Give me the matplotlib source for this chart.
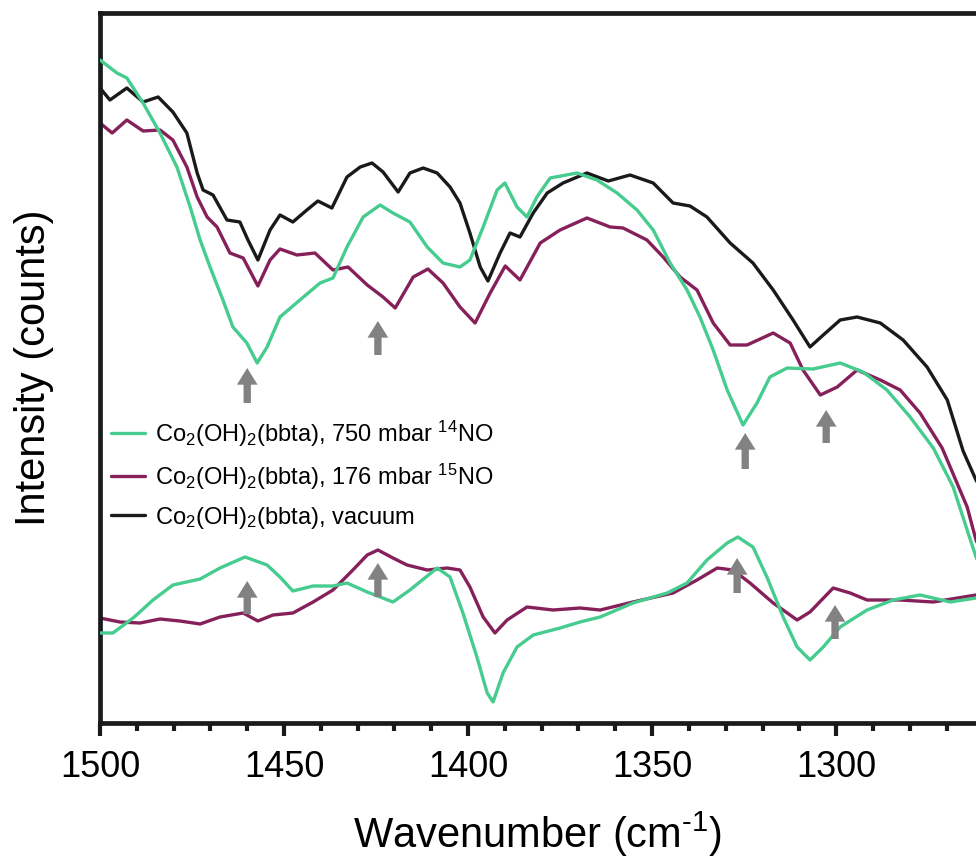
import matplotlib
matplotlib.use("Agg")
import matplotlib.pyplot as plt
from matplotlib.ticker import MultipleLocator

plt.rcParams['font.family'] = ['Liberation Sans', 'DejaVu Sans']
plt.rcParams['mathtext.fontset'] = 'custom'
plt.rcParams['mathtext.rm'] = 'Liberation Sans'
plt.rcParams['mathtext.it'] = 'Liberation Sans'
plt.rcParams['mathtext.bf'] = 'Liberation Sans'

# ---- data (wavenumber in cm^-1, intensity in arbitrary counts) ----
vac_wn = [1500.0, 1497.3, 1492.7, 1488.3, 1484.2, 1480.2, 1476.4, 1473.6, 1472.0, 1469.3,
          1465.5, 1462.0, 1459.8, 1457.1, 1453.8, 1451.1, 1447.6, 1443.8, 1440.8, 1437.0,
          1432.9, 1429.3, 1426.1, 1423.1, 1419.0, 1415.8, 1412.2, 1408.4, 1404.9, 1402.2,
          1399.5, 1396.7, 1394.6, 1391.3, 1388.6, 1385.9, 1382.3, 1378.5, 1374.2, 1367.7,
          1361.9, 1356.0, 1349.7, 1344.3, 1339.7, 1335.1, 1328.8, 1322.6, 1317.1, 1311.7,
          1307.1, 1303.5, 1298.9, 1294.3, 1288.0, 1281.8, 1275.3, 1269.8, 1265.5, 1262.0, 1260.0]
vac_int = [635, 623, 635, 621, 626, 611, 590, 550, 533, 528,
           503, 501, 483, 463, 493, 508, 501, 513, 522, 515,
           546, 556, 560, 551, 531, 550, 555, 550, 536, 520,
           490, 456, 442, 470, 490, 486, 510, 530, 540, 550,
           542, 548, 540, 520, 517, 506, 480, 460, 433, 403,
           376, 388, 403, 406, 400, 383, 356, 323, 272, 243, 230]

no14_wn = [1500.0, 1495.4, 1492.7, 1488.3, 1483.7, 1479.1, 1475.5, 1472.8, 1470.1, 1466.6,
           1463.9, 1460.1, 1457.3, 1454.6, 1451.1, 1445.7, 1440.2, 1436.7, 1432.9, 1428.5,
           1423.9, 1420.4, 1415.8, 1411.1, 1406.8, 1402.2, 1399.5, 1395.9, 1392.1, 1390.0,
           1386.7, 1384.0, 1381.3, 1377.7, 1370.4, 1365.0, 1359.5, 1354.1, 1349.7, 1345.1,
           1340.5, 1337.0, 1333.4, 1329.6, 1325.3, 1321.5, 1318.0, 1313.3, 1306.3, 1298.9,
           1292.7, 1286.2, 1279.9, 1273.6, 1268.2, 1264.4, 1262.0, 1260.0]
no14_int = [663, 650, 645, 620, 590, 556, 516, 483, 456, 423,
            396, 380, 360, 376, 406, 423, 440, 445, 476, 506,
            518, 510, 501, 476, 460, 456, 463, 496, 533, 540,
            516, 506, 526, 545, 550, 543, 530, 513, 493, 460,
            433, 406, 373, 333, 298, 320, 346, 355, 354, 360,
            351, 333, 306, 275, 236, 193, 166, 150]

no15_wn = [1500.0, 1496.7, 1492.7, 1488.3, 1483.7, 1480.2, 1476.4, 1473.6, 1470.9, 1468.2,
           1464.7, 1461.1, 1457.1, 1453.8, 1451.1, 1446.5, 1441.6, 1436.7, 1432.6, 1427.4,
           1423.1, 1419.8, 1414.9, 1410.9, 1406.8, 1402.2, 1398.1, 1394.0, 1389.9, 1385.9,
           1380.4, 1375.0, 1367.7, 1361.4, 1357.9, 1351.4, 1347.0, 1342.4, 1337.8, 1333.4,
           1328.8, 1324.2, 1317.1, 1312.5, 1309.0, 1304.3, 1299.7, 1294.3, 1288.0, 1282.6,
           1277.2, 1271.2, 1264.4, 1262.0, 1260.0]
no15_int = [600, 590, 603, 592, 593, 583, 556, 526, 506, 496,
            470, 465, 437, 463, 474, 468, 470, 453, 456, 438,
            426, 415, 446, 454, 440, 416, 400, 430, 457, 443,
            480, 493, 505, 496, 495, 483, 466, 446, 433, 400,
            378, 378, 390, 380, 353, 328, 336, 353, 343, 333,
            310, 275, 216, 183, 165]

diff14_wn = [1500.0, 1496.5, 1491.0, 1485.6, 1480.2, 1472.8, 1467.4, 1460.6, 1454.6, 1451.1,
             1447.6, 1442.1, 1436.7, 1432.9, 1427.4, 1420.4, 1415.8, 1408.4, 1404.9, 1401.4,
             1397.6, 1394.8, 1393.2, 1390.5, 1386.7, 1382.3, 1375.0, 1369.6, 1364.1, 1355.2,
             1345.9, 1340.5, 1335.1, 1329.6, 1326.7, 1322.6, 1318.8, 1314.4, 1310.6, 1307.1,
             1303.5, 1298.9, 1291.6, 1284.5, 1277.2, 1269.0, 1262.0, 1260.0]
diff14_int = [90, 90, 105, 123, 138, 144, 155, 166, 158, 146,
              132, 137, 137, 140, 131, 121, 133, 155, 146, 110,
              66, 30, 21, 50, 76, 88, 95, 101, 106, 120,
              130, 140, 163, 180, 186, 176, 146, 106, 76, 63,
              76, 96, 113, 123, 128, 121, 125, 126]

diff15_wn = [1500.0, 1494.6, 1489.1, 1483.7, 1478.3, 1472.8, 1467.4, 1461.1, 1457.1, 1453.0,
             1447.6, 1442.1, 1436.7, 1431.3, 1427.4, 1424.5, 1420.4, 1416.6, 1411.1, 1405.7,
             1402.2, 1399.5, 1395.9, 1392.7, 1389.4, 1384.0, 1376.9, 1369.6, 1364.1, 1355.2,
             1344.3, 1337.8, 1332.3, 1328.0, 1323.4, 1317.1, 1310.6, 1307.1, 1300.8, 1296.2,
             1291.6, 1282.6, 1273.6, 1262.0, 1260.0]
diff15_int = [105, 101, 100, 104, 102, 99, 106, 110, 102, 108,
              110, 121, 133, 153, 168, 173, 165, 158, 153, 155,
              153, 136, 106, 90, 103, 116, 113, 115, 113, 121,
              130, 143, 155, 153, 140, 120, 103, 111, 135, 130,
              123, 123, 121, 128, 129]

arrow_wn = [1460.0, 1424.5, 1324.7, 1302.7, 1460.0, 1424.5, 1326.9, 1300.3]
arrow_tip = [355, 402, 290, 313, 142, 160, 165, 118]
arrow_tail = [320, 368, 254, 280, 109, 126, 130, 84]

labels = [r'Co$_2$(OH)$_2$(bbta), 750 mbar $^{14}$NO',
          r'Co$_2$(OH)$_2$(bbta), 176 mbar $^{15}$NO',
          r'Co$_2$(OH)$_2$(bbta), vacuum']

GREEN = '#45CC8E'
PURPLE = '#86205A'
BLACK = '#1a1a1a'
GRAY = '#828282'

fig = plt.figure(figsize=(9.76, 8.64), dpi=100)
ax = fig.add_axes([100 / 976, 141 / 864, 876 / 976, 710 / 864])

lw = 2.4
kw = dict(lw=lw, solid_joinstyle='round', solid_capstyle='round')
l1, = ax.plot(no14_wn, no14_int, color=GREEN, label=labels[0], zorder=3, **kw)
l2, = ax.plot(no15_wn, no15_int, color=PURPLE, label=labels[1], zorder=2, **kw)
l3, = ax.plot(vac_wn, vac_int, color=BLACK, label=labels[2], zorder=1, **kw)
ax.plot(diff15_wn, diff15_int, color=PURPLE, zorder=2, **kw)
ax.plot(diff14_wn, diff14_int, color=GREEN, zorder=3, **kw)

for wn, tip, tail in zip(arrow_wn, arrow_tip, arrow_tail):
    ax.annotate('', xy=(wn, tip), xytext=(wn, tail),
                arrowprops=dict(arrowstyle='simple,head_width=0.62,head_length=0.5,tail_width=0.22',
                                color=GRAY, shrinkA=0, shrinkB=0, mutation_scale=24, lw=0),
                zorder=4)

ax.set_xlim(1500, 1262)
ax.set_ylim(0, 710)
ax.xaxis.set_major_locator(MultipleLocator(50))
ax.xaxis.set_minor_locator(MultipleLocator(10))
ax.set_yticks([])
ax.tick_params(axis='x', which='major', direction='out', length=9.5, width=3,
               labelsize=26, pad=10, color=BLACK)
ax.tick_params(axis='x', which='minor', direction='out', length=6, width=3, color=BLACK)
for s in ['left', 'bottom', 'top']:
    ax.spines[s].set_linewidth(3.4)
    ax.spines[s].set_color(BLACK)
ax.spines['right'].set_visible(False)

ax.set_xlabel(r'Wavenumber (cm$^{\text{-1}}$)', fontsize=30, labelpad=18)
ax.set_ylabel('Intensity (counts)', fontsize=30, labelpad=33)

leg = ax.legend(handles=[l1, l2, l3], loc='center left', bbox_to_anchor=(0.012, 0.35),
                frameon=False, fontsize=17, handlelength=1.45, handletextpad=0.45,
                labelspacing=0.55, borderpad=0, borderaxespad=0)

fig.savefig('out.png', dpi=100)
